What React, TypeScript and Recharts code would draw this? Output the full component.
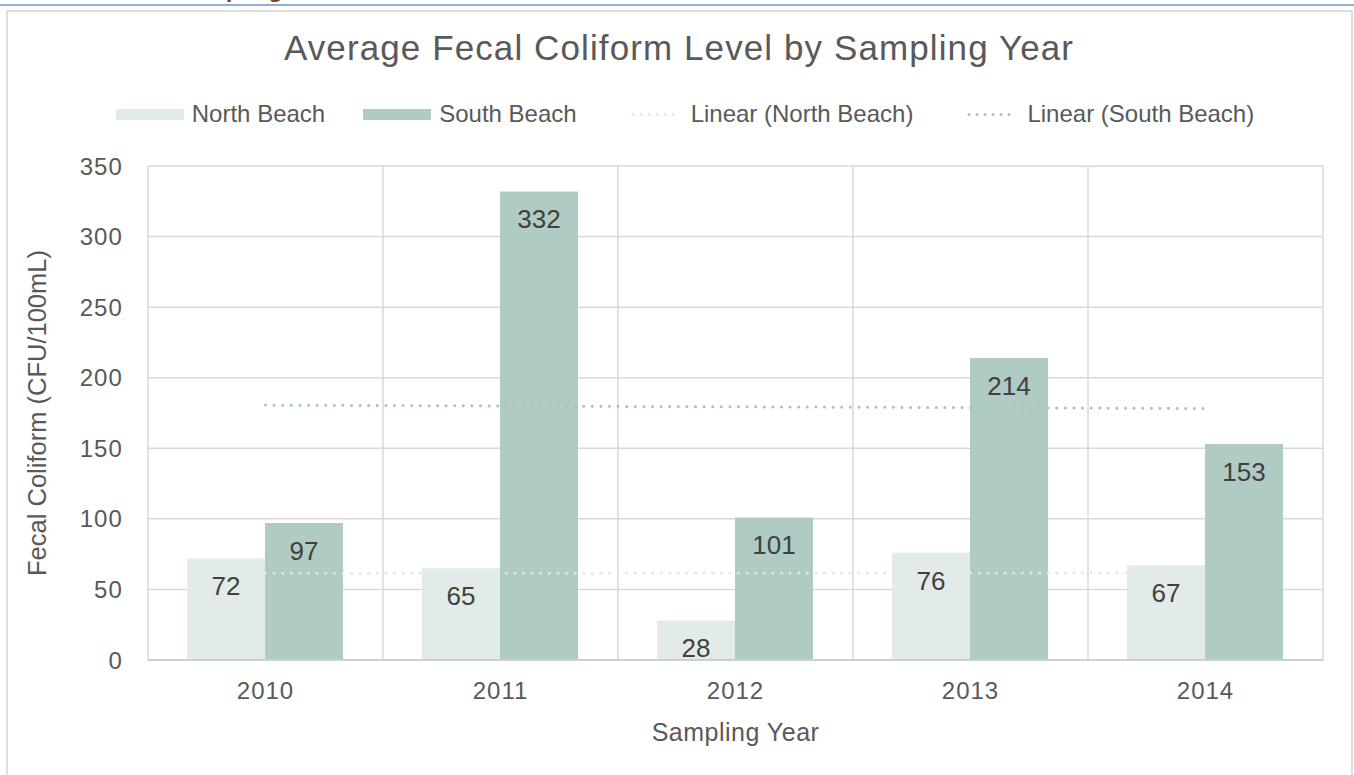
import React from 'react';
import {
  ComposedChart,
  Bar,
  Line,
  XAxis,
  YAxis,
  CartesianGrid,
  LabelList,
  Label,
} from 'recharts';

// ---- data ----
const years = ['2010', '2011', '2012', '2013', '2014'];
const northBeach = [72, 65, 28, 76, 67];
const southBeach = [97, 332, 101, 214, 153];
const yTicks = [0, 50, 100, 150, 200, 250, 300, 350];

const TITLE = 'Average Fecal Coliform Level by Sampling Year';
const X_TITLE = 'Sampling Year';
const Y_TITLE = 'Fecal Coliform (CFU/100mL)';

// ---- styling ----
const FONT = '"Liberation Sans", Arial, Helvetica, sans-serif';
const NORTH_COLOR = '#e2ebe8';
const SOUTH_COLOR = '#b0cbc4';
const NORTH_TREND_COLOR = '#e0e9e6';
const SOUTH_TREND_COLOR = '#a3c3bb';
const TEXT_COLOR = '#595959';
const LABEL_COLOR = '#404040';
const GRID_COLOR = '#d9d9d9';

// Least-squares linear trend over the category index (spreadsheet-style trendline)
function linearTrend(values: number[]): number[] {
  const n = values.length;
  const xm = (n - 1) / 2;
  const ym = values.reduce((a, b) => a + b, 0) / n;
  let sxy = 0;
  let sxx = 0;
  values.forEach((v, i) => {
    sxy += (i - xm) * (v - ym);
    sxx += (i - xm) * (i - xm);
  });
  const slope = sxy / sxx;
  return values.map((_, i) => ym + slope * (i - xm));
}

const northTrend = linearTrend(northBeach);
const southTrend = linearTrend(southBeach);

const rows = years.map((year, i) => ({
  year,
  north: northBeach[i],
  south: southBeach[i],
  northTrend: northTrend[i],
  southTrend: southTrend[i],
}));

const legendItems = [
  { name: 'North Beach', kind: 'bar', color: NORTH_COLOR },
  { name: 'South Beach', kind: 'bar', color: SOUTH_COLOR },
  { name: 'Linear (North Beach)', kind: 'trend', color: NORTH_TREND_COLOR },
  { name: 'Linear (South Beach)', kind: 'trend', color: SOUTH_TREND_COLOR },
];

const BarValueLabel = (props: any) => {
  const { x, y, width, value } = props;
  return (
    <text
      x={Number(x) + Number(width) / 2}
      y={Number(y) + 37}
      textAnchor="middle"
      fill={LABEL_COLOR}
      fontSize={26}
      fontFamily={FONT}
    >
      {value}
    </text>
  );
};

const YTick = (props: any) => {
  const { x, y, payload } = props;
  return (
    <text
      x={Number(x)}
      y={Number(y)}
      textAnchor="end"
      dominantBaseline="central"
      fill={TEXT_COLOR}
      fontSize={24}
      fontFamily={FONT}
      style={{ letterSpacing: '1.1px' }}
    >
      {payload.value}
    </text>
  );
};

const XTick = (props: any) => {
  const { x, y, payload } = props;
  return (
    <text
      x={Number(x)}
      y={Number(y) + 17}
      textAnchor="middle"
      fill={TEXT_COLOR}
      fontSize={24}
      fontFamily={FONT}
      style={{ letterSpacing: '1px' }}
    >
      {payload.value}
    </text>
  );
};

const YTitle = (props: any) => {
  const vb = props.viewBox || { x: 0, y: 166, width: 148, height: 494 };
  const cx = vb.x + 37;
  const cy = vb.y + vb.height / 2;
  return (
    <text
      x={cx}
      y={cy}
      transform={`rotate(-90, ${cx}, ${cy})`}
      textAnchor="middle"
      dominantBaseline="central"
      fill={TEXT_COLOR}
      fontSize={25.5}
      fontFamily={FONT}
    >
      {Y_TITLE}
    </text>
  );
};

const XTitle = (props: any) => {
  const vb = props.viewBox || { x: 148, y: 660, width: 1175, height: 80 };
  return (
    <text
      x={vb.x + vb.width / 2}
      y={vb.y + 81}
      textAnchor="middle"
      fill={TEXT_COLOR}
      fontSize={25}
      fontFamily={FONT}
      style={{ letterSpacing: '0.5px' }}
    >
      {X_TITLE}
    </text>
  );
};

// grid lines on the category boundaries
const categoryBoundaries = ({ offset }: any) => {
  const n = years.length;
  return Array.from({ length: n + 1 }, (_, i) => offset.left + (i * offset.width) / n);
};

const LegendMarker = ({ kind, color }: { kind: string; color: string }) =>
  kind === 'bar' ? (
    <span style={{ display: 'inline-block', width: 68, height: 11, background: color }} />
  ) : (
    <svg width={68} height={11} style={{ display: 'block' }}>
      <line
        x1={18}
        y1={5.5}
        x2={66}
        y2={5.5}
        stroke={color}
        strokeWidth={3}
        strokeDasharray="0 8"
        strokeLinecap="round"
      />
    </svg>
  );

export default function App() {
  return (
    <div
      style={{
        position: 'absolute',
        left: 0,
        top: 0,
        width: 1354,
        height: 775,
        overflow: 'hidden',
        background: '#ffffff',
        fontFamily: FONT,
      }}
    >
      {/* page heading just above the chart, mostly scrolled out of view */}
      <div
        style={{
          position: 'absolute',
          left: 175,
          top: -25,
          fontSize: 24,
          fontWeight: 'bold',
          color: '#7b4526',
          lineHeight: '27px',
          whiteSpace: 'nowrap',
        }}
      >
        Sampling
      </div>
      {/* heading rule */}
      <div
        style={{
          position: 'absolute',
          left: 0,
          top: 4,
          width: 1354,
          height: 2,
          background: '#8fb1d2',
        }}
      />
      {/* chart frame */}
      <div
        style={{
          position: 'absolute',
          left: 6,
          top: 10,
          width: 1347,
          height: 800,
          border: '2px solid #dedede',
          boxSizing: 'border-box',
        }}
      />
      {/* title */}
      <div
        style={{
          position: 'absolute',
          left: 6,
          width: 1346,
          top: 28,
          textAlign: 'center',
          fontSize: 35,
          lineHeight: '39px',
          letterSpacing: '1.1px',
          color: TEXT_COLOR,
          whiteSpace: 'nowrap',
        }}
      >
        {TITLE}
      </div>
      {/* legend */}
      <div
        style={{
          position: 'absolute',
          left: 12,
          width: 1346,
          top: 100,
          height: 28,
          display: 'flex',
          justifyContent: 'center',
          alignItems: 'center',
          gap: 38,
          fontSize: 24,
          color: TEXT_COLOR,
          whiteSpace: 'nowrap',
        }}
      >
        {legendItems.map((it) => (
          <div key={it.name} style={{ display: 'flex', alignItems: 'center', gap: 8 }}>
            <LegendMarker kind={it.kind} color={it.color} />
            <span>{it.name}</span>
          </div>
        ))}
      </div>

      <div style={{ position: 'absolute', left: 0, top: 0 }}>
        <ComposedChart
          width={1354}
          height={775}
          data={rows}
          margin={{ top: 166, right: 31, bottom: 35, left: 0 }}
          barCategoryGap="16.6%"
          barGap={0}
        >
          <CartesianGrid
            stroke={GRID_COLOR}
            strokeWidth={1.5}
            verticalCoordinatesGenerator={categoryBoundaries}
          />
          <XAxis
            dataKey="year"
            height={80}
            axisLine={{ stroke: '#cfcfcf', strokeWidth: 2 }}
            tickLine={false}
            tickSize={0}
            tickMargin={22}
            tick={XTick}
          >
            <Label content={XTitle} />
          </XAxis>
          <YAxis
            width={148}
            domain={[0, 350]}
            ticks={yTicks}
            axisLine={false}
            tickLine={false}
            tickSize={0}
            tickMargin={25}
            tick={YTick}
          >
            <Label content={YTitle} />
          </YAxis>
          <Bar dataKey="north" fill={NORTH_COLOR} isAnimationActive={false}>
            <LabelList dataKey="north" content={BarValueLabel} />
          </Bar>
          <Bar dataKey="south" fill={SOUTH_COLOR} isAnimationActive={false}>
            <LabelList dataKey="south" content={BarValueLabel} />
          </Bar>
          <Line
            dataKey="northTrend"
            stroke={NORTH_TREND_COLOR}
            strokeWidth={3}
            strokeDasharray="0 8.6"
            strokeLinecap="round"
            dot={false}
            activeDot={false}
            isAnimationActive={false}
          />
          <Line
            dataKey="southTrend"
            stroke={SOUTH_TREND_COLOR}
            strokeWidth={3}
            strokeDasharray="0 8.6"
            strokeLinecap="round"
            dot={false}
            activeDot={false}
            isAnimationActive={false}
          />
        </ComposedChart>
      </div>
    </div>
  );
}
